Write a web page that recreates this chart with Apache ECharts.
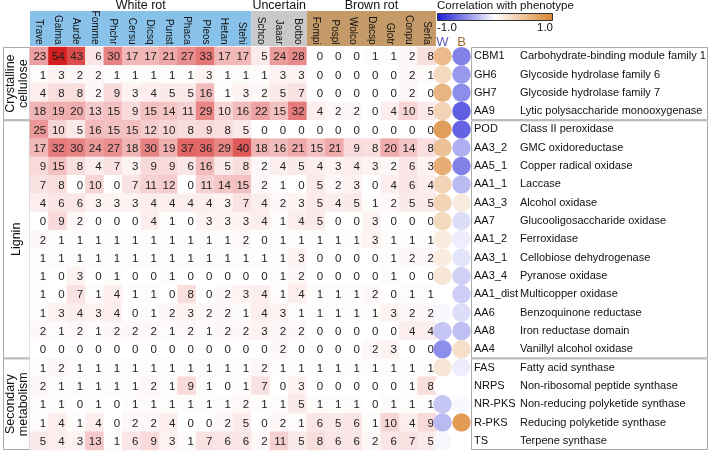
<!DOCTYPE html>
<html><head><meta charset="utf-8">
<script src="https://cdn.jsdelivr.net/npm/echarts@6/dist/echarts.min.js"></script>
<style>html,body{margin:0;padding:0;background:#fff}#c{width:712px;height:460px}</style>
</head><body><div id="c"></div>
<script>
// ---------- data ----------
const species = ['Trave','Galma','Aurde','Fomme','Phchr','Cersu','Dicsq','Punst','Phaca','Pleos','Hetan','Stehi','Schco','Jaaar','Botbo','Fompi','Pospl','Wolco','Dacsp','Glotr','Conpu','Serla'];
const speciesGroupNames = ['White rot','Uncertain','Brown rot'];
const speciesGroupSizes = [12, 3, 7];
const families = ['CBM1','GH6','GH7','AA9','POD','AA3_2','AA5_1','AA1_1','AA3_3','AA7','AA1_2','AA3_1','AA3_4','AA1_dist','AA6','AA8','AA4','FAS','NRPS','NR-PKS','R-PKS','TS'];
const descriptions = ['Carbohydrate-binding module family 1','Glycoside hydrolase family 6','Glycoside hydrolase family 7','Lytic polysaccharide monooxygenase','Class II peroxidase','GMC oxidoreductase','Copper radical oxidase','Laccase','Alcohol oxidase','Glucooligosaccharide oxidase','Ferroxidase','Cellobiose dehydrogenase','Pyranose oxidase','Multicopper oxidase','Benzoquinone reductase','Iron reductase domain','Vanillyl alcohol oxidase','Fatty acid synthase','Non-ribosomal peptide synthase','Non-reducing polyketide synthase','Reducing polyketide synthase','Terpene synthase'];
const familyGroupNames = ['Crystalline\ncellulose','Lignin','Secondary\nmetabolism'];
const familyGroupSizes = [4, 13, 5];
const counts = [
  [23,54,43,6,30,17,17,21,27,33,17,17,5,24,28,0,0,0,1,1,2,8],
  [1,3,2,2,1,1,1,1,1,3,1,1,1,3,3,0,0,0,0,0,2,1],
  [4,8,8,2,9,3,4,5,5,16,1,3,2,5,7,0,0,0,0,0,2,0],
  [18,19,20,13,15,9,15,14,11,29,10,16,22,15,32,4,2,2,0,4,10,5],
  [25,10,5,16,15,15,12,10,8,9,8,5,0,0,0,0,0,0,0,0,0,0],
  [17,32,30,24,27,18,30,19,37,36,29,40,18,16,21,15,21,9,8,20,14,8],
  [9,15,8,4,7,3,9,9,6,16,5,8,2,4,5,4,3,4,3,2,6,3],
  [7,8,0,10,0,7,11,12,0,11,14,15,2,1,0,5,2,3,0,4,6,4],
  [4,6,6,3,3,3,4,4,4,4,3,7,4,2,3,5,4,5,1,2,5,5],
  [0,9,2,0,0,0,4,1,0,3,3,3,4,1,4,5,0,0,3,0,0,0],
  [2,1,1,1,1,1,1,1,1,1,1,2,0,1,1,1,1,1,3,1,1,1],
  [1,1,1,1,1,1,1,1,1,1,1,1,1,1,3,0,0,0,0,1,2,2],
  [1,0,3,0,1,0,0,1,0,0,0,0,0,1,2,0,0,0,0,1,0,0],
  [1,0,7,1,4,1,1,0,8,0,2,3,4,1,4,1,1,1,2,0,1,1],
  [1,3,4,3,4,0,1,2,3,2,2,1,4,3,1,1,1,1,1,3,2,2],
  [2,1,2,1,2,2,2,1,2,1,2,2,3,2,2,0,0,0,0,0,4,4],
  [0,0,0,0,0,0,0,0,0,0,0,0,0,2,0,0,0,0,2,3,0,0],
  [1,2,1,1,1,1,1,1,1,1,1,1,2,1,1,1,1,1,1,1,1,1],
  [2,1,1,1,1,1,2,1,9,1,0,1,7,0,3,0,0,0,0,0,1,8],
  [1,1,0,1,0,1,1,1,1,1,1,2,1,1,5,1,1,1,0,1,1,1],
  [1,4,1,4,0,2,2,4,0,0,2,5,0,2,1,6,5,6,1,10,4,9],
  [5,4,3,13,1,6,9,3,1,7,6,6,2,11,5,8,6,6,2,6,7,5]
];
const corrColumns = ['W','B'];
const corrW = [0.55,0.3,0.6,0.35,0.78,0.5,0.65,0.35,0.35,0.3,0.15,0.15,0.2,0.0,-0.03,-0.25,-0.5,0.2,0.0,-0.25,-0.3,-0.04];
const corrB = [-0.55,-0.45,-0.5,-0.7,-0.68,-0.35,-0.55,-0.3,0.15,-0.15,-0.08,-0.12,-0.2,-0.22,-0.15,-0.28,0.25,-0.08,0.0,-0.03,0.8,0.0];
const legendTitle = 'Correlation with phenotype';
const legendTicks = ['-1.0','1.0'];

// ---------- styles ----------
const FONT = '"Liberation Sans", Arial, Helvetica, sans-serif';
const headerColors = ['#88c2ea','#c9c9c9','#c59a69'];
const G = {left: 30, top: 47, width: 406, height: 403};
const G2 = {left: 433, top: 47, width: 38, height: 403};
const HEADER_TOP = 11, HEADER_BOTTOM = 46;

const heatData = [];
counts.forEach((row, r) => row.forEach((v, c) => heatData.push([c, r, v])));
const corrData = [];
families.forEach((f, r) => { corrData.push([0, r, corrW[r]]); corrData.push([1, r, corrB[r]]); });

const chart = echarts.init(document.getElementById('c'), null, {renderer: 'canvas'});
const option = {
  animation: false,
  textStyle: {fontFamily: FONT},
  grid: [
    {left: G.left, top: G.top, width: G.width, height: G.height, outerBoundsMode: 'none', containLabel: false},
    {left: G2.left, top: G2.top, width: G2.width, height: G2.height, outerBoundsMode: 'none', containLabel: false}
  ],
  xAxis: [
    {type: 'category', data: species, gridIndex: 0, position: 'top',
     axisLine: {show: false}, axisTick: {show: false}, splitLine: {show: false},
     axisLabel: {rotate: 90, margin: 2.5, fontSize: 10, color: '#111', fontFamily: FONT, interval: 0}},
    {type: 'category', data: corrColumns, gridIndex: 1, position: 'top',
     axisLine: {show: false}, axisTick: {show: false}, splitLine: {show: false},
     axisLabel: {margin: -2, fontSize: 13, fontFamily: FONT, interval: 0,
       color: (v) => v === 'W' ? '#5a5ab8' : '#a06a30'}}
  ],
  yAxis: [
    {type: 'category', data: families, gridIndex: 0, inverse: true, show: false},
    {type: 'category', data: families, gridIndex: 1, inverse: true, position: 'right',
     axisLine: {show: false}, axisTick: {show: false}, splitLine: {show: false},
     axisLabel: {margin: 3, interval: 0,
       formatter: (v, i) => '{c|' + v + '}{d|' + descriptions[i] + '}',
       rich: {c: {width: 46, fontSize: 11, color: '#111', fontFamily: FONT},
              d: {fontSize: 11, color: '#111', fontFamily: FONT}}}}
  ],
  visualMap: [
    {type: 'continuous', show: false, seriesIndex: 0, dimension: 2, min: 0, max: 54,
     inRange: {color: ['#ffffff', '#d41e1e']}},
    {type: 'continuous', show: false, seriesIndex: 1, dimension: 2, min: -1, max: 1,
     inRange: {color: ['#1a1ad6', '#ffffff', '#d9822b']}}
  ],
  series: [
    {type: 'heatmap', xAxisIndex: 0, yAxisIndex: 0, data: heatData,
     label: {show: true, fontSize: 11.5, color: '#222', fontFamily: FONT, align: 'right', offset: [7, 1],
       formatter: p => String(p.value[2])},
     itemStyle: {borderWidth: 0}, emphasis: {disabled: true}},
    {type: 'scatter', xAxisIndex: 1, yAxisIndex: 1, data: corrData, symbolSize: 18.5,
     itemStyle: {opacity: 1}, emphasis: {disabled: true}}
  ]
};
chart.setOption(option);

// ---------- decorations positioned from axes ----------
const colW = G.width / species.length;
const rowH = G.height / families.length;
const gfx = [];
function colX(c) { return chart.convertToPixel({gridIndex: 0}, [c, 0])[0]; }
function rowY(r) { return chart.convertToPixel({gridIndex: 0}, [0, r])[1]; }

// species headers
let start = 0;
speciesGroupNames.forEach((name, gi) => {
  const n = speciesGroupSizes[gi];
  const x0 = colX(start) - colW / 2, x1 = colX(start + n - 1) + colW / 2;
  gfx.push({type: 'rect', z: -10, shape: {x: x0, y: HEADER_TOP, width: x1 - x0, height: HEADER_BOTTOM - HEADER_TOP},
            style: {fill: headerColors[gi]}});
  gfx.push({type: 'text', x: (x0 + x1) / 2, y: 5.5,
            style: {text: name, fontSize: 12.5, fontFamily: FONT, fill: '#111', textAlign: 'center', textVerticalAlign: 'middle'}});
  start += n;
});

// family group boxes (left & right)
start = 0;
familyGroupNames.forEach((name, gi) => {
  const n = familyGroupSizes[gi];
  const y0 = rowY(start) - rowH / 2, y1 = rowY(start + n - 1) + rowH / 2;
  gfx.push({type: 'rect', shape: {x: 3.5, y: y0 + 0.5, width: G.left - 3.5, height: y1 - y0 - 1},
            style: {fill: 'none', stroke: '#aaaaaa', lineWidth: 1}});
  gfx.push({type: 'text', x: 17, y: (y0 + y1) / 2, rotation: Math.PI / 2,
            style: {text: name, fontSize: 12.5, fontFamily: FONT, fill: '#111', textAlign: 'center', textVerticalAlign: 'middle', lineHeight: 13}});
  gfx.push({type: 'rect', shape: {x: 471.5, y: y0 + 0.5, width: 236, height: y1 - y0 - 1},
            style: {fill: 'none', stroke: '#aaaaaa', lineWidth: 1}});
  start += n;
});

// legend
gfx.push({type: 'text', x: 437, y: 6,
          style: {text: legendTitle, fontSize: 11.5, fontFamily: FONT, fill: '#111', textAlign: 'left', textVerticalAlign: 'middle'}});
gfx.push({type: 'rect', shape: {x: 437.5, y: 13.5, width: 115, height: 7},
          style: {stroke: '#333', lineWidth: 1,
            fill: new echarts.graphic.LinearGradient(0, 0, 1, 0, [
              {offset: 0, color: '#1a1ad6'}, {offset: 0.5, color: '#ffffff'}, {offset: 1, color: '#d9822b'}])}});
gfx.push({type: 'text', x: 437, y: 28,
          style: {text: legendTicks[0], fontSize: 11.5, fontFamily: FONT, fill: '#111', textAlign: 'left', textVerticalAlign: 'middle'}});
gfx.push({type: 'text', x: 553, y: 28,
          style: {text: legendTicks[1], fontSize: 11.5, fontFamily: FONT, fill: '#111', textAlign: 'right', textVerticalAlign: 'middle'}});

chart.setOption({graphic: {elements: gfx}});
</script>
</body></html>
